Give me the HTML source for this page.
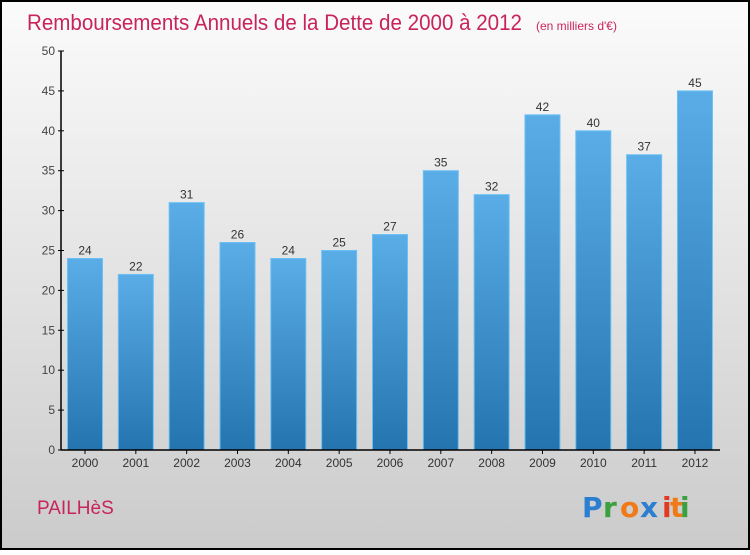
<!DOCTYPE html>
<html><head><meta charset="utf-8"><style>
html,body{margin:0;padding:0;}
body{width:750px;height:550px;overflow:hidden;font-family:"Liberation Sans",sans-serif;}
</style></head><body>
<svg id="chart" width="750" height="550" xmlns="http://www.w3.org/2000/svg">
<defs>
<linearGradient id="bg" x1="0" y1="0" x2="0" y2="1"><stop offset="0" stop-color="#fbfbfb"/><stop offset="1" stop-color="#cbcbcb"/></linearGradient>
<linearGradient id="bar" x1="0" y1="0" x2="0" y2="1"><stop offset="0" stop-color="#5aade6"/><stop offset="1" stop-color="#2474b0"/></linearGradient>
</defs>
<rect x="1" y="1" width="748" height="548" fill="url(#bg)" stroke="#000" stroke-width="2"/>
<text x="27" y="30" font-size="22" fill="#c8245a" textLength="495" lengthAdjust="spacingAndGlyphs">Remboursements Annuels de la Dette de 2000 à 2012</text>
<text x="536" y="30" font-size="12" fill="#c8245a">(en milliers d'€)</text>
<text x="37" y="514" font-size="19" fill="#c8245a">PAILHèS</text>
<g font-size="28" font-weight="bold" font-family="'DejaVu Sans',sans-serif">
<text x="582" y="517" fill="#2b7fd0">P</text><text x="603" y="517" fill="#3aa040">r</text><text x="620" y="517" fill="#f07a18">o</text><text x="640" y="517" fill="#2b7fd0">x</text><text x="662" y="517" fill="#e03a20">i</text><text x="670" y="517" fill="#f07a18">t</text><text x="680" y="517" fill="#3aa040">i</text>
</g>
<g id="yaxis"></g><g id="bars"></g><g id="xaxis"></g>
</svg>
<script>
const categories = ["2000","2001","2002","2003","2004","2005","2006","2007","2008","2009","2010","2011","2012"];
const values = [24,22,31,26,24,25,27,35,32,42,40,37,45];
const yTicks = [0,5,10,15,20,25,30,35,40,45,50];
const NS="http://www.w3.org/2000/svg";
const y0=450, yTop=51, yMax=50;
const yScale=v=>y0-(v/yMax)*(y0-yTop);
const xScale=i=>85+i*50.83;
const bw=35;
function mk(tag,attrs,parent){const e=document.createElementNS(NS,tag);for(const k in attrs)e.setAttribute(k,attrs[k]);parent.appendChild(e);return e;}
const ya=document.getElementById('yaxis'), bars=document.getElementById('bars'), xa=document.getElementById('xaxis');
const yl=mk('line',{x1:61,y1:yTop,x2:61,y2:y0,stroke:'#000','stroke-width':1.5},ya);


yTicks.forEach(t=>{
  const y=yScale(t);
  const tk=mk('line',{x1:58,y1:y,x2:64,y2:y,stroke:'#000'},ya);
  
  
  const tx=mk('text',{x:55,y:y+4,'font-size':12,fill:'#444','text-anchor':'end'},ya);
  tx.textContent=t;
  
  
});
categories.forEach((c,i)=>{
  const x=xScale(i), y=yScale(values[i]);
  const r=mk('rect',{x:x-bw/2,y:y,width:bw,height:y0-y,fill:'url(#bar)',stroke:'#6cc0f5','stroke-width':1},bars);
  
  
  const v=mk('text',{x:x,y:y-4,'font-size':12,fill:'#333','text-anchor':'middle'},bars);
  v.textContent=values[i];
  
  
  const tk=mk('line',{x1:x,y1:y0,x2:x,y2:y0+4,stroke:'#000'},xa);
  
  
  const t=mk('text',{x:x,y:y0+17,'font-size':12,fill:'#333','text-anchor':'middle'},xa);
  t.textContent=c;
  
  
});
const xl=mk('line',{x1:61,y1:y0,x2:720,y2:y0,stroke:'#000','stroke-width':1.5},xa);


</script>
</body></html>
